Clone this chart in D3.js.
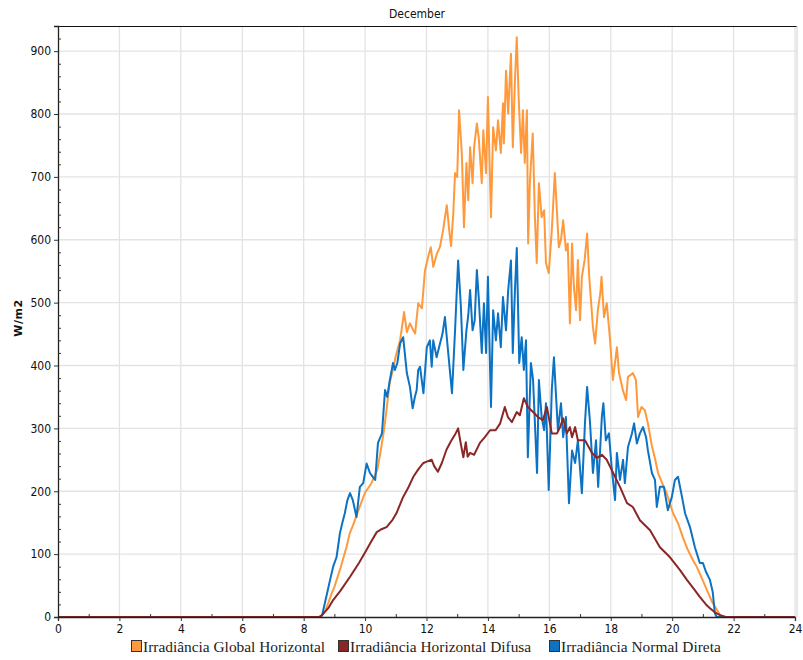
<!DOCTYPE html>
<html>
<head>
<meta charset="utf-8">
<script src="https://cdn.jsdelivr.net/npm/d3@7"></script>
<style>
  html, body { margin: 0; padding: 0; background: #fff; }
  svg { display: block; }
</style>
</head>
<body>
<svg id="chart" width="803" height="660"></svg>
<script>
// Irradiance over one December day (hour of day vs W/m2)
const chartTitle = "December";
const yAxisTitle = "W/m2";
const xTickValues = [0, 2, 4, 6, 8, 10, 12, 14, 16, 18, 20, 22, 24];
const yTickValues = [0, 100, 200, 300, 400, 500, 600, 700, 800, 900];
const seriesNames = ["Irradiância Global Horizontal", "Irradiância Horizontal Difusa", "Irradiância Normal Direta"];

// Global horizontal irradiance
const ghiHours = [0, 8.5, 8.6, 8.7, 8.8, 8.9, 9.0, 9.2, 9.4, 9.5, 9.6, 9.8, 10.0, 10.2, 10.4, 10.5, 10.6, 10.7, 10.8, 10.9,
  11.0, 11.14, 11.27, 11.36, 11.46, 11.55, 11.63, 11.73, 11.85, 11.95, 12.05, 12.14, 12.22, 12.34, 12.44, 12.54, 12.66, 12.74, 12.8, 12.87,
  12.93, 13.0, 13.06, 13.15, 13.22, 13.3, 13.36, 13.42, 13.5, 13.55, 13.64, 13.7, 13.8, 13.85, 13.94, 14.0, 14.1, 14.17, 14.26, 14.33,
  14.42, 14.49, 14.52, 14.59, 14.66, 14.75, 14.81, 14.88, 14.94, 15.0, 15.08, 15.14, 15.2, 15.27, 15.31, 15.37, 15.46, 15.53, 15.59, 15.66,
  15.75, 15.83, 15.89, 15.98, 16.08, 16.18, 16.24, 16.31, 16.38, 16.45, 16.54, 16.6, 16.67, 16.74, 16.8, 16.87, 16.93, 17.0, 17.06, 17.15,
  17.23, 17.3, 17.42, 17.49, 17.58, 17.66, 17.7, 17.78, 17.87, 17.97, 18.07, 18.2, 18.27, 18.4, 18.5, 18.56, 18.65, 18.72, 18.82, 18.89,
  19.0, 19.11, 19.21, 19.34, 19.45, 19.54, 19.7, 19.82, 20.03, 20.2, 20.36, 20.5, 20.67, 20.8, 21.0, 21.13, 21.3, 21.46, 21.55, 21.65, 24];
const ghiValues = [0, 0, 3, 10, 22, 36, 48, 78, 112, 133, 145, 172, 198, 212, 234, 262, 292, 330, 372, 392,
  415, 440, 485, 453, 467, 458, 451, 499, 491, 551, 572, 588, 557, 578, 589, 615, 655, 615, 590, 640,
  706, 700, 806, 738, 620, 722, 663, 747, 690, 747, 785, 763, 690, 774, 706, 827, 636, 779, 742, 790,
  738, 817, 753, 869, 801, 896, 747, 853, 922, 827, 738, 806, 722, 806, 594, 695, 769, 636, 563, 690,
  636, 647, 563, 547, 615, 706, 652, 588, 600, 631, 583, 594, 467, 594, 525, 488, 568, 472, 541, 568,
  610, 541, 461, 435, 488, 515, 541, 477, 499, 445, 377, 429, 388, 360, 345, 382, 385, 388, 377, 318,
  334, 329, 308, 272, 250, 229, 210, 197, 165, 148, 125, 108, 91, 80, 58, 43, 24, 11, 4, 0, 0];

// Diffuse horizontal irradiance
const dhiHours = [0, 8.5, 8.6, 8.8, 8.96, 9.2, 9.51, 9.8, 10.05, 10.2, 10.38, 10.55, 10.7, 10.9, 11.02, 11.24, 11.4, 11.57, 11.75, 11.9,
  12.05, 12.17, 12.25, 12.37, 12.5, 12.65, 12.8, 12.95, 13.03, 13.1, 13.2, 13.28, 13.34, 13.42, 13.55, 13.74, 13.9, 14.07, 14.25, 14.4,
  14.55, 14.65, 14.78, 14.94, 15.04, 15.17, 15.3, 15.47, 15.63, 15.79, 15.92, 16.08, 16.25, 16.35, 16.45, 16.57, 16.67, 16.74, 16.84, 16.93,
  17.16, 17.39, 17.55, 17.71, 17.87, 18.08, 18.3, 18.53, 18.72, 18.95, 19.28, 19.6, 19.93, 20.25, 20.48, 20.7, 20.9, 21.1, 21.23, 21.4,
  21.56, 21.75, 24];
const dhiValues = [0, 0, 3, 14, 27, 42, 64, 86, 107, 120, 135, 140, 143, 155, 165, 191, 205, 223, 236, 245,
  248, 250, 240, 231, 245, 266, 280, 292, 300, 280, 254, 278, 255, 261, 258, 277, 286, 297, 297, 308,
  334, 318, 310, 326, 321, 348, 334, 326, 318, 313, 334, 292, 292, 302, 316, 292, 302, 286, 302, 281,
  281, 261, 253, 258, 250, 229, 207, 181, 175, 154, 138, 111, 95, 75, 59, 45, 32, 20, 14, 7,
  3, 0, 0];

// Direct normal irradiance
const dniHours = [0, 8.55, 8.6, 8.75, 8.86, 8.96, 9.07, 9.18, 9.26, 9.34, 9.42, 9.51, 9.6, 9.72, 9.83, 9.94, 10.05, 10.16, 10.25, 10.33,
  10.42, 10.55, 10.65, 10.72, 10.8, 10.91, 10.97, 11.05, 11.14, 11.24, 11.36, 11.46, 11.55, 11.62, 11.68, 11.73, 11.79, 11.9, 12.01, 12.11,
  12.17, 12.22, 12.33, 12.44, 12.52, 12.6, 12.7, 12.83, 12.93, 13.03, 13.12, 13.2, 13.3, 13.36, 13.42, 13.5, 13.57, 13.64, 13.7, 13.8,
  13.87, 13.94, 14.0, 14.1, 14.17, 14.26, 14.33, 14.42, 14.49, 14.59, 14.66, 14.75, 14.81, 14.88, 14.94, 15.02, 15.1, 15.17, 15.24, 15.3,
  15.4, 15.47, 15.6, 15.66, 15.75, 15.83, 15.89, 15.98, 16.08, 16.15, 16.22, 16.28, 16.38, 16.45, 16.54, 16.64, 16.74, 16.84, 16.93, 17.06,
  17.16, 17.23, 17.32, 17.42, 17.52, 17.59, 17.71, 17.76, 17.84, 17.94, 18.03, 18.14, 18.2, 18.3, 18.4, 18.46, 18.56, 18.69, 18.76, 18.85,
  18.95, 19.05, 19.15, 19.21, 19.34, 19.44, 19.5, 19.6, 19.73, 19.86, 19.99, 20.09, 20.19, 20.32, 20.42, 20.58, 20.74, 20.9, 21.0, 21.1,
  21.23, 21.32, 21.39, 21.45, 24];
const dniValues = [0, 0, 3, 35, 59, 80, 95, 133, 150, 165, 185, 197, 186, 159, 207, 213, 244, 229, 223, 218,
  277, 292, 361, 350, 375, 404, 393, 404, 435, 445, 388, 366, 332, 350, 361, 393, 398, 356, 429, 440,
  398, 440, 413, 435, 450, 477, 424, 356, 456, 567, 493, 393, 456, 480, 520, 456, 472, 552, 509, 420,
  499, 420, 541, 334, 488, 440, 483, 429, 509, 456, 520, 567, 420, 520, 587, 404, 445, 393, 440, 254,
  404, 377, 229, 377, 318, 297, 340, 202, 361, 413, 350, 297, 340, 286, 318, 181, 265, 245, 281, 197,
  308, 366, 313, 229, 281, 207, 318, 340, 281, 292, 238, 186, 261, 218, 250, 213, 270, 292, 308, 276,
  292, 302, 286, 265, 229, 218, 175, 207, 207, 170, 191, 218, 223, 191, 165, 143, 111, 86, 86, 72,
  59, 40, 6, 0, 0];

const seriesColors = ["#ff9a3c", "#8b2626", "#0b72c4"];

const svg = d3.select("#chart");
const plotLeft = 58, plotRight = 795, plotTop = 26, plotBottom = 617, frameRight = 797;

const x = d3.scaleLinear().domain([0, 24]).range([plotLeft, plotRight]);
const y = d3.scaleLinear().domain([0, 940]).range([plotBottom, plotTop]);

svg.append("rect").attr("width", 803).attr("height", 660).attr("fill", "#fff");

// gridlines
const grid = svg.append("g");
grid.selectAll("line.gx").data(xTickValues.filter(d => d > 0)).join("line")
  .attr("x1", d => x(d)).attr("x2", d => x(d)).attr("y1", plotTop).attr("y2", plotBottom)
  .attr("stroke", "#e3e3e3").attr("stroke-width", 1.3);
grid.selectAll("line.gy").data(yTickValues.filter(d => d > 0)).join("line")
  .attr("x1", plotLeft).attr("x2", frameRight).attr("y1", d => y(d)).attr("y2", d => y(d))
  .attr("stroke", "#e3e3e3").attr("stroke-width", 1.3);

// frame: top and right edges
svg.append("line").attr("x1", plotLeft).attr("x2", frameRight).attr("y1", plotTop + 0.5).attr("y2", plotTop + 0.5)
  .attr("stroke", "#111").attr("stroke-width", 1.2);
svg.append("line").attr("x1", frameRight).attr("x2", frameRight).attr("y1", plotTop).attr("y2", plotBottom)
  .attr("stroke", "#d0d0d0").attr("stroke-width", 1);

// series lines
const lineGen = (hours, values) => d3.line()
  .x((d, i) => x(hours[i]))
  .y(d => y(d))(values);

const lines = svg.append("g").attr("fill", "none").attr("stroke-width", 2).attr("stroke-linejoin", "round");
lines.append("path").attr("d", lineGen(ghiHours, ghiValues)).attr("stroke", seriesColors[0]);
lines.append("path").attr("d", lineGen(dniHours, dniValues)).attr("stroke", seriesColors[2]);
lines.append("path").attr("d", lineGen(dhiHours, dhiValues)).attr("stroke", seriesColors[1]);

const tickFont = "'Liberation Sans Narrow', 'DejaVu Sans Condensed', 'Noto Sans', sans-serif";

// x axis: major ticks outward, minor ticks inward
svg.append("g").attr("transform", `translate(0,${plotBottom})`)
  .call(d3.axisBottom(x).tickValues(xTickValues).tickSize(4).tickPadding(3).tickFormat(d3.format("d")));
svg.append("g").attr("transform", `translate(0,${plotBottom})`)
  .call(d3.axisBottom(x).tickValues(d3.range(1, 24, 2)).tickSize(-3).tickFormat(""))
  .call(g => g.select(".domain").remove());

// y axis
svg.append("g").attr("transform", `translate(${plotLeft},0)`)
  .call(d3.axisLeft(y).tickValues(yTickValues).tickSize(4).tickPadding(3).tickFormat(d3.format("d")));
svg.append("g").attr("transform", `translate(${plotLeft},0)`)
  .call(d3.axisLeft(y).tickValues(d3.range(20, 940, 20).filter(d => d % 100 !== 0)).tickSize(-3).tickFormat(""))
  .call(g => g.select(".domain").remove());

svg.selectAll(".domain").attr("stroke", "#222").attr("stroke-width", 1.3);
svg.selectAll(".tick line").attr("stroke", "#333");
svg.selectAll(".tick text").attr("font-family", tickFont).attr("font-size", 12).attr("fill", "#111");

// title
svg.append("text").attr("x", 417).attr("y", 18).attr("text-anchor", "middle")
  .attr("font-family", tickFont).attr("font-size", 12).attr("fill", "#111").text(chartTitle);

// y axis title
svg.append("text").attr("transform", "translate(22,318) rotate(-90)").attr("text-anchor", "middle")
  .attr("font-family", "'DejaVu Sans', sans-serif").attr("font-weight", "bold").attr("font-size", 11)
  .attr("letter-spacing", 0.6).attr("fill", "#111").text(yAxisTitle);

// legend
const legendX = [131, 338, 549];
const legend = svg.append("g");
seriesNames.forEach((name, i) => {
  legend.append("rect").attr("x", legendX[i] + 0.5).attr("y", 640.5).attr("width", 10).attr("height", 11)
    .attr("fill", seriesColors[i]).attr("stroke", "#333").attr("stroke-width", 1);
  legend.append("text").attr("x", legendX[i] + 12).attr("y", 652)
    .attr("font-family", "'Liberation Serif', 'DejaVu Serif', serif").attr("font-size", 15.4)
    .attr("fill", "#222").text(name);
});
</script>
</body>
</html>
